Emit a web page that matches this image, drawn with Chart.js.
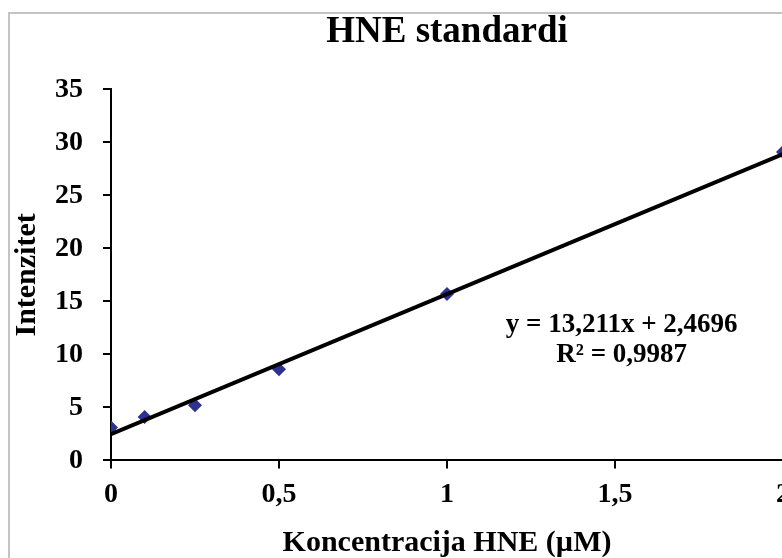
<!DOCTYPE html>
<html>
<head>
<meta charset="utf-8">
<script src="https://cdn.jsdelivr.net/npm/chart.js@4/dist/chart.umd.min.js"></script>
<style>
html,body{margin:0;padding:0;overflow:hidden;background:#fff;width:782px;height:558px;}
#wrap{position:absolute;left:0;top:0;width:800px;height:561px;}
</style>
</head>
<body>
<div id="wrap"><canvas id="c"></canvas></div>
<script>
const concentrations = [0, 0.1, 0.25, 0.5, 1, 2];
const intensities = [3.1, 4.1, 5.2, 8.6, 15.7, 29.1];
const trendX = [0, 2];
const trendY = [2.4696, 28.8916];
const equationLines = ['y = 13,211x + 2,4696', 'R\u00b2 = 0,9987'];
const titleText = 'HNE standardi';
const xTitle = 'Koncentracija HNE (\u00b5M)';
const yTitle = 'Intenzitet';

const serif = "'Liberation Serif','Times New Roman',serif";

const frame = {
  id: 'frame',
  beforeDraw(chart) {
    const ctx = chart.ctx;
    ctx.save();
    ctx.strokeStyle = '#c4c4c4';
    ctx.lineWidth = 2;
    ctx.strokeRect(9, 13, 2000, 2000);
    ctx.restore();
  }
};
const eqLabel = {
  id: 'eqLabel',
  afterDatasetsDraw(chart) {
    const ctx = chart.ctx;
    const xs = chart.scales.x, ys = chart.scales.y;
    const cx = xs.getPixelForValue(1.52);
    const cy = ys.getPixelForValue(12.75);
    ctx.save();
    ctx.font = 'bold 27px ' + serif;
    ctx.fillStyle = '#000';
    ctx.textAlign = 'center';
    ctx.textBaseline = 'middle';
    ctx.fillText(equationLines[0], cx, cy);
    ctx.fillText(equationLines[1], cx, cy + 30);
    ctx.restore();
  }
};

new Chart(document.getElementById('c'), {
  type: 'scatter',
  data: {
    datasets: [
      {
        label: 'Trend',
        data: trendX.map((x, i) => ({x: x, y: trendY[i]})),
        showLine: true,
        borderColor: '#000',
        borderWidth: 4,
        pointRadius: 0,
        order: 1
      },
      {
        label: 'HNE',
        data: concentrations.map((x, i) => ({x: x, y: intensities[i]})),
        pointStyle: 'rectRot',
        pointRadius: 7,
        backgroundColor: '#2d3190',
        borderColor: '#2d3190',
        borderWidth: 0,
        order: 2
      }
    ]
  },
  options: {
    responsive: true,
    maintainAspectRatio: false,
    animation: false,
    layout: {autoPadding: false, padding: {left: 9, right: 0, top: 10, bottom: 0}},
    plugins: {
      legend: {display: false},
      tooltip: {enabled: false},
      title: {
        display: true,
        text: titleText,
        fullSize: false,
        color: '#000',
        font: {family: serif, size: 37, weight: 'bold'},
        padding: {top: 0, bottom: 35}
      }
    },
    scales: {
      x: {
        type: 'linear',
        min: 0, max: 2,
        ticks: {
          stepSize: 0.5,
          color: '#000',
          font: {family: serif, size: 28, weight: 'bold'},
          padding: 10,
          maxRotation: 0,
          callback: v => String(v).replace('.', ',')
        },
        grid: {drawOnChartArea: false, drawTicks: true, tickLength: 8, color: '#000', lineWidth: 2},
        border: {color: '#000', width: 2},
        title: {display: true, text: xTitle, color: '#000', font: {family: serif, size: 30, weight: 'bold'}, padding: {top: 3, bottom: 0}}
      },
      y: {
        min: 0, max: 35,
        afterFit: s => { s.width = 102; },
        ticks: {
          stepSize: 5,
          color: '#000',
          font: {family: serif, size: 28, weight: 'bold'},
          padding: 20
        },
        grid: {drawOnChartArea: false, drawTicks: true, tickLength: 8, color: '#000', lineWidth: 2},
        border: {color: '#000', width: 2},
        title: {display: true, text: yTitle, color: '#000', font: {family: serif, size: 30, weight: 'bold'}, padding: {top: 0, bottom: 9}}
      }
    }
  },
  plugins: [frame, eqLabel]
});
</script>
</body>
</html>
